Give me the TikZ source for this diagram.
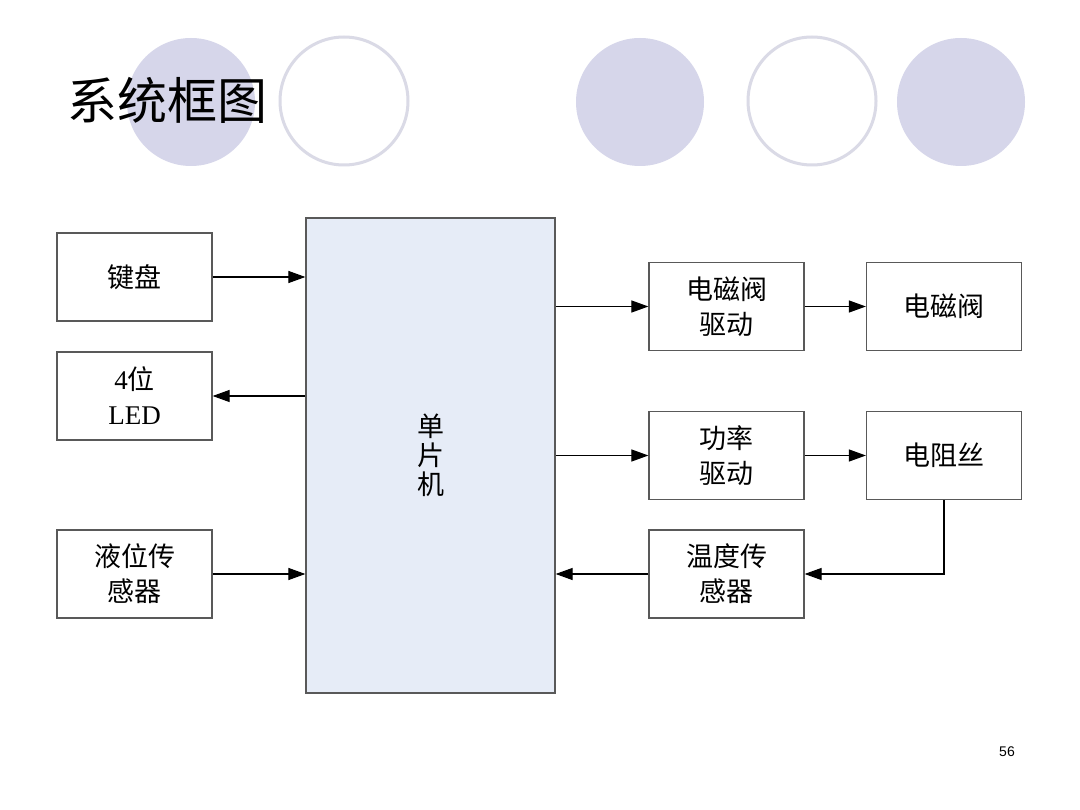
\documentclass[tikz,border=0pt]{standalone}
\usepackage{fontspec}
\setmainfont{Liberation Serif}
\newfontfamily\cjk{Noto Sans CJK SC}
\newfontfamily\pagefont{Liberation Sans}
\usetikzlibrary{arrows.meta}
\definecolor{dotfill}{RGB}{214,214,234}
\definecolor{dotline}{RGB}{218,218,230}
\definecolor{mcufill}{RGB}{230,236,247}
\begin{document}
\begin{tikzpicture}[x=1pt,y=-1pt,
    blk/.style={draw=black!65,line width=1.2pt,minimum width=155pt,minimum height=88pt,
        align=center,font=\fontsize{27}{35}\selectfont\cjk},
    arr/.style={line width=1.1pt,-{Triangle[length=17pt,width=12pt]}}]
    \useasboundingbox[fill=white] (0,0) rectangle (1080,810);
    % background dots
    \fill[dotfill] (191,102) circle (64);
    \draw[dotline,line width=3pt] (344,101) circle (64);
    \fill[dotfill] (640,102) circle (64);
    \draw[dotline,line width=3pt] (812,101) circle (64);
    \fill[dotfill] (961,102) circle (64);
    \node[font=\fontsize{50}{50}\selectfont\cjk,anchor=west] (title) at (64,100) {系统框图};
    % blocks
    \node[blk,fill=mcufill,minimum width=249pt,minimum height=475pt,font=\fontsize{27}{29}\selectfont\cjk] (mcu) at (430.5,455.5) {单\\片\\机};
    \node[blk] (kb) at (134.5,277) {键盘};
    \node[blk] (led) at (134.5,396) {{\rmfamily 4}位\\{\rmfamily LED}};
    \node[blk] (lvl) at (134.5,574) {液位传\\感器};
    \node[blk] (vdrv) at (726.5,306.5) {电磁阀\\驱动};
    \node[blk] (valve) at (944,306.5) {电磁阀};
    \node[blk] (pdrv) at (726.5,455.5) {功率\\驱动};
    \node[blk] (wire) at (944,455.5) {电阻丝};
    \node[blk] (temp) at (726.5,574) {温度传\\感器};
    % connections
    \draw[arr] (kb) -- (kb -| mcu.west);
    \draw[arr] (mcu.west |- led) -- (led);
    \draw[arr] (lvl) -- (lvl -| mcu.west);
    \draw[arr] (mcu.east |- vdrv) -- (vdrv);
    \draw[arr] (vdrv) -- (valve);
    \draw[arr] (mcu.east |- pdrv) -- (pdrv);
    \draw[arr] (pdrv) -- (wire);
    \draw[arr] (wire.south) |- (temp.east);
    \draw[arr] (temp) -- (temp -| mcu.east);
    \node[font=\fontsize{14}{14}\selectfont\pagefont] (page) at (1007,752) {56};
\end{tikzpicture}
\end{document}
